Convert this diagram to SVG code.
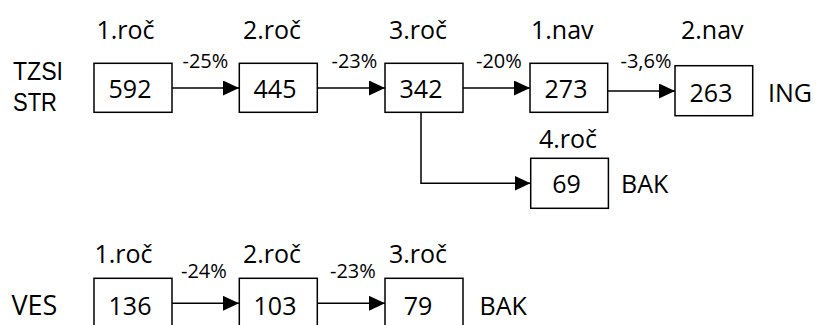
<svg xmlns="http://www.w3.org/2000/svg" width="817" height="325" viewBox="0 0 817 325">
<style>
text{font-family:"Open Sans","Noto Sans","Liberation Sans",sans-serif;fill:#000}
.big{font-size:27px}
.side{font-family:"Liberation Sans",Arial,sans-serif;font-size:26px}
.lbl{font-size:25px}
.num{font-size:25px;text-anchor:middle}
.pct{font-size:20px}
rect{fill:#fff;stroke:#000;stroke-width:1.5}
.con{fill:none;stroke:#000;stroke-width:1.5}
</style>
<defs>
<marker id="ah" markerUnits="userSpaceOnUse" viewBox="0 0 16 15" refX="16" refY="7.5" markerWidth="16" markerHeight="15" orient="auto">
<path d="M0,0 L16,7.5 L0,15 Z" fill="#000"/>
</marker>
</defs>
<rect x="0" y="0" width="817" height="325" style="fill:#fff;stroke:none"/>
<text class="side" x="13" y="80" textLength="50" lengthAdjust="spacingAndGlyphs">TZSI</text>
<text class="side" x="13" y="110.5" textLength="44" lengthAdjust="spacingAndGlyphs">STR</text>
<text class="big" x="11.5" y="315">VES</text>

<g id="connectors">
<line class="con" x1="172" y1="88" x2="239" y2="88" marker-end="url(#ah)"/>
<line class="con" x1="317" y1="88" x2="385" y2="88" marker-end="url(#ah)"/>
<line class="con" x1="463" y1="88" x2="530" y2="88" marker-end="url(#ah)"/>
<line class="con" x1="608" y1="91" x2="675" y2="91" marker-end="url(#ah)"/>
<path class="con" d="M421,112 V183.3 H530.5" marker-end="url(#ah)"/>
<line class="con" x1="172" y1="303.3" x2="239" y2="303.3" marker-end="url(#ah)"/>
<line class="con" x1="317" y1="303.3" x2="385" y2="303.3" marker-end="url(#ah)"/>
<text class="pct" x="182.5" y="68.3">-25%</text>
<text class="pct" x="331.5" y="68.3">-23%</text>
<text class="pct" x="476" y="68.3">-20%</text>
<text class="pct" x="620.5" y="68.3">-3,6%</text>
<text class="pct" x="181" y="278.3">-24%</text>
<text class="pct" x="330" y="278.3">-23%</text>
</g>

<g id="n592"><text class="lbl" x="96.5" y="38.5">1.roč</text><rect x="94" y="63.3" width="78" height="49"/><text class="num" x="130" y="98.3">592</text></g>
<g id="n445"><text class="lbl" x="243" y="38.5">2.roč</text><rect x="239.3" y="63.3" width="78" height="49"/><text class="num" x="275" y="98.3">445</text></g>
<g id="n342"><text class="lbl" x="389" y="38.5">3.roč</text><rect x="385" y="63.3" width="78" height="49"/><text class="num" x="421" y="98.3">342</text></g>
<g id="n273"><text class="lbl" x="531" y="38.5">1.nav</text><rect x="530" y="63.3" width="77.7" height="49"/><text class="num" x="566" y="98.3">273</text></g>
<g id="n263"><text class="lbl" x="681" y="38.5">2.nav</text><rect x="675" y="65.7" width="77.7" height="50"/><text class="num" x="711" y="101.7">263</text><text class="lbl" x="768" y="101.7">ING</text></g>
<g id="n69"><text class="lbl" x="539" y="148.3">4.roč</text><rect x="530.7" y="158.3" width="77.7" height="50"/><text class="num" x="566.5" y="193.3">69</text><text class="lbl" x="621" y="193.3">BAK</text></g>

<g id="n136"><text class="lbl" x="94.5" y="263.3">1.roč</text><rect x="94" y="278.3" width="78" height="60"/><text class="num" x="130" y="315">136</text></g>
<g id="n103"><text class="lbl" x="243" y="263.3">2.roč</text><rect x="239.3" y="278.3" width="78" height="60"/><text class="num" x="275" y="315">103</text></g>
<g id="n79"><text class="lbl" x="389" y="263.3">3.roč</text><rect x="385" y="278.3" width="78" height="60"/><text class="num" x="418" y="315">79</text><text class="lbl" x="479.5" y="315">BAK</text></g>
</svg>
